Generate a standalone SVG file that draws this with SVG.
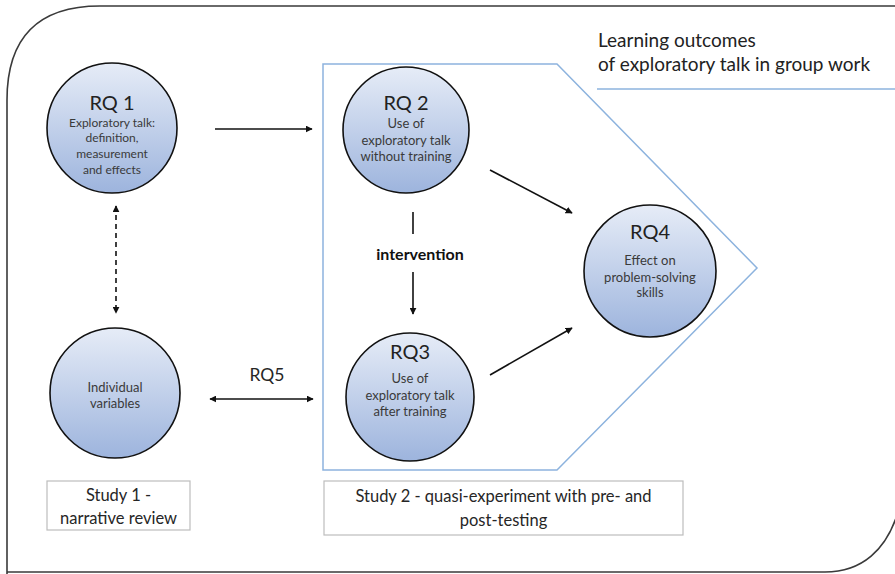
<svg xmlns="http://www.w3.org/2000/svg" width="895" height="574" viewBox="0 0 895 574">
<style>
.frame{fill:none;stroke:#3a3a3a;stroke-width:1.6}
.zone{fill:none;stroke:#8db3de;stroke-width:1.5}
.node circle{fill:url(#g);stroke:#111;stroke-width:1.6}
.t{font-family:Lato,"Open Sans","Liberation Sans",sans-serif;fill:#3a3a3a;text-anchor:middle}
.h{font-size:20px;fill:#222}
.s{font-size:13px}
.s1{font-size:12px}
.box rect{fill:#fff;stroke:#bdbdbd;stroke-width:1.2}
.b{font-size:16.5px;fill:#262626}
.c{stroke:#111;stroke-width:1.6;fill:none}
</style>
<defs>
<linearGradient id="g" x1="0" y1="0" x2="0" y2="1">
<stop offset="0" stop-color="#e6ecf7"/>
<stop offset="1" stop-color="#9db4dd"/>
</linearGradient>
<marker id="a" viewBox="0 0 10 10" refX="9" refY="5" markerWidth="7" markerHeight="7" orient="auto-start-reverse" markerUnits="userSpaceOnUse">
<path d="M0,0 L10,5 L0,10 z" fill="#111"/>
</marker>
</defs>
<rect width="895" height="574" fill="#fff"/>
<path class="frame" d="M7,574 L7,100 Q7,6 100,6 L900,6 M7,572 L825,572 C860,572 888,552 900,505"/>
<path class="zone" d="M323,64 L557,64 L757,268 L557,470 L323,470 Z"/>
<text class="t" x="598" y="47" style="font-size:19px;fill:#222;text-anchor:start">Learning outcomes</text>
<text class="t" x="598" y="71" style="font-size:19px;fill:#222;text-anchor:start">of exploratory talk in group work</text>
<line x1="597" y1="89" x2="895" y2="89" stroke="#8db3de" stroke-width="1.3"/>
<g id="connectors">
<line class="c" x1="215" y1="129" x2="312" y2="129" marker-end="url(#a)"/>
<line class="c" x1="490" y1="170" x2="572" y2="213" marker-end="url(#a)"/>
<line class="c" x1="490" y1="375" x2="572" y2="328" marker-end="url(#a)"/>
<line class="c" x1="413" y1="212" x2="413" y2="234"/>
<line class="c" x1="413" y1="272" x2="413" y2="314" marker-end="url(#a)"/>
<line class="c" x1="116" y1="206" x2="116" y2="313" stroke-dasharray="5,4" marker-start="url(#a)" marker-end="url(#a)"/>
<line class="c" x1="210" y1="399" x2="313" y2="399" marker-start="url(#a)" marker-end="url(#a)"/>
<text class="t" x="420" y="260" style="font-size:16px;font-weight:bold;fill:#111">intervention</text>
<text class="t" x="267" y="381" style="font-size:17.5px;fill:#262626">RQ5</text>
</g>
<g id="rq1" class="node">
<circle cx="112" cy="128" r="65"/>
<text class="t h" x="112" y="110">RQ 1</text>
<text class="t s1" x="112" y="127">Exploratory talk:</text>
<text class="t s1" x="112" y="142">definition,</text>
<text class="t s1" x="112" y="158">measurement</text>
<text class="t s1" x="112" y="174">and effects</text>
</g>
<g id="rq2" class="node">
<circle cx="406" cy="130" r="63"/>
<text class="t h" x="406" y="110">RQ 2</text>
<text class="t s" x="406" y="128">Use of</text>
<text class="t s" x="406" y="145">exploratory talk</text>
<text class="t s" x="406" y="161">without training</text>
</g>
<g id="rq4" class="node">
<circle cx="650" cy="271" r="66"/>
<text class="t h" x="650" y="239">RQ4</text>
<text class="t s" x="650" y="265">Effect on</text>
<text class="t s" x="650" y="282">problem-solving</text>
<text class="t s" x="650" y="297">skills</text>
</g>
<g id="rq3" class="node">
<circle cx="410" cy="397" r="64"/>
<text class="t h" x="410" y="359">RQ3</text>
<text class="t s" x="410" y="383">Use of</text>
<text class="t s" x="410" y="400">exploratory talk</text>
<text class="t s" x="410" y="416">after training</text>
</g>
<g id="individual" class="node">
<circle cx="115" cy="393" r="65"/>
<text class="t s" x="115" y="392">Individual</text>
<text class="t s" x="115" y="408">variables</text>
</g>
<g id="study1" class="box">
<rect x="47" y="481" width="143" height="49"/>
<text class="t b" x="118.5" y="501">Study 1 -</text>
<text class="t b" x="118.5" y="524">narrative review</text>
</g>
<g id="study2" class="box">
<rect x="324" y="481" width="359" height="54"/>
<text class="t b" x="503.5" y="502">Study 2 - quasi-experiment with pre- and</text>
<text class="t b" x="503.5" y="526">post-testing</text>
</g>
</svg>
